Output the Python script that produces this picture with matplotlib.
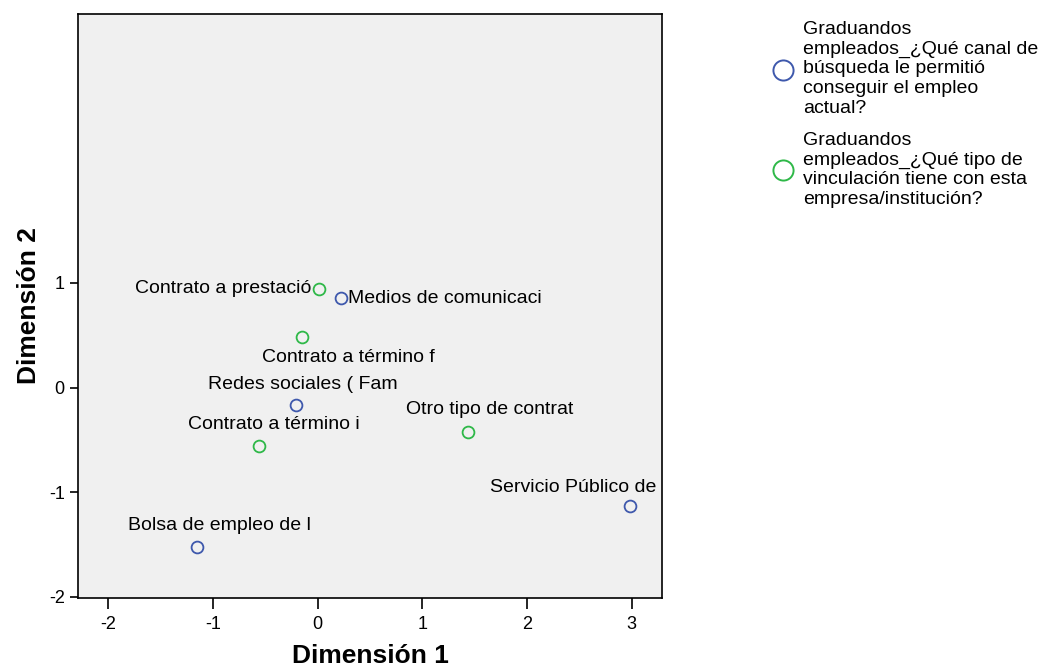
import numpy as np
import matplotlib.pyplot as plt
from matplotlib.lines import Line2D

plt.rcParams['font.family'] = ['Liberation Sans', 'DejaVu Sans']
plt.rcParams['axes.unicode_minus'] = False

# category points (SPSS joint plot of category points)
canal_labels = ['Medios de comunicaci', 'Redes sociales ( Fam',
                'Bolsa de empleo de l', 'Servicio Público de']
canal_x = [0.22, -0.21, -1.15, 2.98]
canal_y = [0.86, -0.17, -1.52, -1.13]

tipo_labels = ['Contrato a prestació', 'Contrato a término f',
               'Contrato a término i', 'Otro tipo de contrat']
tipo_x = [0.01, -0.15, -0.56, 1.44]
tipo_y = [0.94, 0.48, -0.56, -0.42]

legend_texts = ['Graduandos\nempleados_¿Qué canal de\nbúsqueda le permitió\nconseguir el empleo\nactual?',
                'Graduandos\nempleados_¿Qué tipo de\nvinculación tiene con esta\nempresa/institución?']

blue = '#3E58AC'
green = '#2EB848'

fig = plt.figure(figsize=(10.53, 6.71), dpi=100)
ax = fig.add_axes([78 / 1053, 1 - 598 / 671, (662 - 78) / 1053, (598 - 14) / 671])
ax.set_facecolor('#F0F0F0')

ax.plot(canal_x, canal_y, 'o', ms=8.5, mfc='none', mec=blue, mew=1.3, ls='none')
ax.plot(tipo_x, tipo_y, 'o', ms=8.5, mfc='none', mec=green, mew=1.3, ls='none')

# label offsets in pixels (dx, dy, ha, va)
canal_off = [(7, -1, 'left', 'center'), (7, 21, 'center', 'center'),
             (22, 21, 'center', 'center'), (-56, 18, 'center', 'center')]
tipo_off = [(-7, 1, 'right', 'center'), (46, -20, 'center', 'center'),
            (15, 22, 'center', 'center'), (21, 22, 'center', 'center')]

for lab, x, y, o in zip(canal_labels, canal_x, canal_y, canal_off):
    ax.annotate(lab, (x, y), xytext=(o[0], o[1]), textcoords='offset pixels',
                ha=o[2], va=o[3], fontsize=14)
for lab, x, y, o in zip(tipo_labels, tipo_x, tipo_y, tipo_off):
    ax.annotate(lab, (x, y), xytext=(o[0], o[1]), textcoords='offset pixels',
                ha=o[2], va=o[3], fontsize=14)

ax.set_xlim(-2.29, 3.29)
ax.set_ylim(-2.01, 3.57)
ax.set_xticks([-2, -1, 0, 1, 2, 3])
ax.set_yticks([-2, -1, 0, 1])
ax.tick_params(direction='out', length=6, width=1.2, labelsize=13)
ax.tick_params(axis='x', length=8, pad=5)
for s in ax.spines.values():
    s.set_linewidth(1.2)

ax.set_xlabel('Dimensión 1', fontsize=19, fontweight='bold', labelpad=8)
ax.set_ylabel('Dimensión 2', fontsize=19, fontweight='bold', labelpad=6)

# legend drawn by hand to keep SPSS style
fig.add_artist(Line2D([783 / 1053], [1 - 70 / 671], transform=fig.transFigure,
                      marker='o', ms=14.5, mfc='none', mec=blue, mew=1.4, ls='none'))
fig.add_artist(Line2D([783 / 1053], [1 - 170 / 671], transform=fig.transFigure,
                      marker='o', ms=14.5, mfc='none', mec=green, mew=1.4, ls='none'))
fig.text(803 / 1053, 1 - 21 / 671, legend_texts[0], fontsize=14, va='top',
         linespacing=1.2)
fig.text(803 / 1053, 1 - 132 / 671, legend_texts[1], fontsize=14, va='top',
         linespacing=1.2)

fig.savefig('out.png', dpi=100)
